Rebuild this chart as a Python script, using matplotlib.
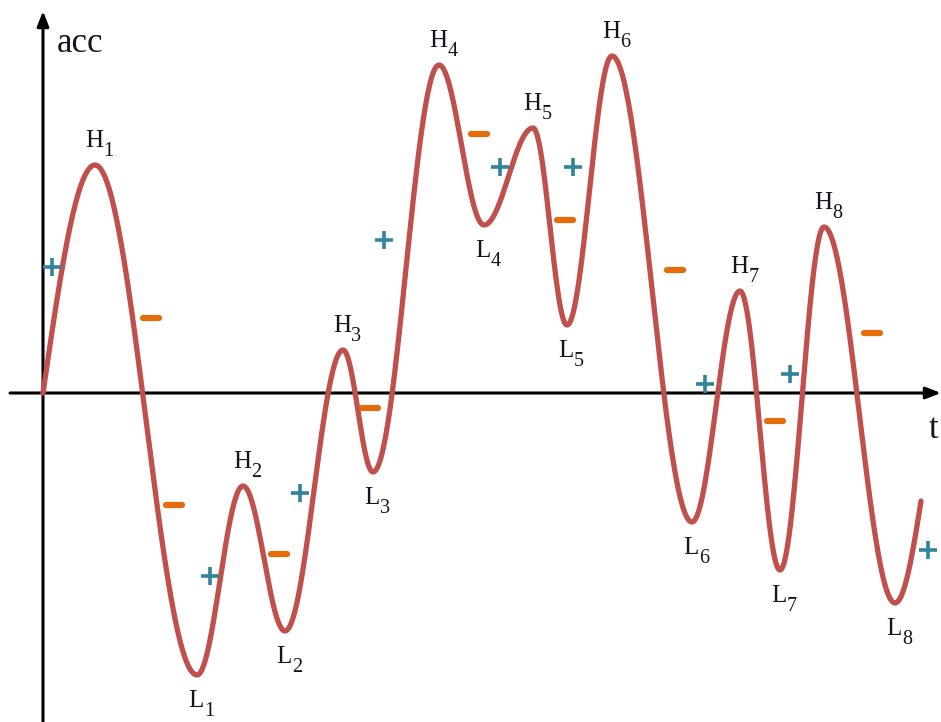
import numpy as np
import matplotlib.pyplot as plt
from matplotlib.markers import MarkerStyle

# extrema of the signal (t, acc)
ext_t = [0, 52, 154, 200, 242, 300, 330, 396, 441, 490, 524, 569, 649, 697, 737, 781, 852]
ext_acc = [0, 228, -282, -93, -238, 43, -79, 328, 168, 265, 68, 337, -129, 102, -177, 166, -210]
ext_names = ["", "H1", "L1", "H2", "L2", "H3", "L3", "H4", "L4", "H5", "L5", "H6", "L6", "H7", "L7", "H8", "L8"]
end_t, next_t, next_acc = 878, 907, 13

plus_t = [9, 167, 257, 341, 457, 530, 662, 747, 885]
plus_acc = [126, -183, -100, 153, 226, 226, 9, 19, -157]
minus_t = [108, 131, 236, 327, 436, 522, 632, 732, 829]
minus_acc = [75, -112, -161, -15, 259, 173, 123, -28, 60]

RED = "#C0504D"
TEAL = "#31849B"
ORANGE = "#E46C0A"
INK = "#141420"


def curve():
    ts, ys = [], []
    # first leg: quarter sine from origin up to H1
    s = np.linspace(0, 1, 60)
    ts.append(ext_t[0] + s * (ext_t[1] - ext_t[0]))
    ys.append(ext_acc[1] * np.sin(np.pi / 2 * s))
    for i in range(1, len(ext_t) - 1):
        t0, t1 = ext_t[i], ext_t[i + 1]
        a0, a1 = ext_acc[i], ext_acc[i + 1]
        ts.append(t0 + s * (t1 - t0))
        ys.append(a0 + (a1 - a0) * (1 - np.cos(np.pi * s)) / 2)
    # last partial leg
    t0, a0 = ext_t[-1], ext_acc[-1]
    tt = np.linspace(t0, end_t, 30)
    ss = (tt - t0) / (next_t - t0)
    ts.append(tt)
    ys.append(a0 + (next_acc - a0) * (1 - np.cos(np.pi * ss)) / 2)
    return np.concatenate(ts), np.concatenate(ys)


fig = plt.figure(figsize=(9.41, 7.22), dpi=100)
ax = fig.add_axes([0, 0, 1, 1])
ax.set_xlim(-43, 898)
ax.set_ylim(-329, 393)
ax.axis("off")

# axes with arrows
arrow = dict(arrowstyle="-|>,head_length=0.9,head_width=0.35", color="black", lw=2.2, shrinkA=0, shrinkB=0)
ax.annotate("", xy=(0, 382), xytext=(0, -329), arrowprops=arrow)
ax.annotate("", xy=(898, 0), xytext=(-33, 0), arrowprops=arrow)

serif = ["Liberation Serif", "DejaVu Serif"]
ax.text(14, 350, "acc", fontsize=25, family=serif, va="center", ha="left", color=INK)
ax.text(891, -37, "t", fontsize=25, family=serif, va="center", ha="center", color=INK)

t, acc = curve()
ax.plot(t, acc, color=RED, lw=3.8, solid_capstyle="round", zorder=3)

# extremum labels: letter, then a lowered subscript digit right after it
for name, tx, ay in zip(ext_names[1:], ext_t[1:], ext_acc[1:]):
    dy = 24 if name[0] == "H" else -26
    letter = ax.text(tx - 1, ay + dy, name[0], fontsize=18, family=serif, ha="center", va="center",
                     color=INK)
    ax.annotate(name[1:], xy=(1.02, 0.02), xycoords=letter, fontsize=14.5, family=serif,
                ha="left", va="center", color=INK)

ax.scatter(plus_t, plus_acc, marker="+", s=150, linewidths=2.6, color=TEAL, zorder=4)
ax.plot(minus_t, minus_acc, ls="none", marker=MarkerStyle("_", capstyle="round"), ms=11, mew=4.5,
        color=ORANGE, zorder=4)

fig.savefig("out.png", dpi=100)
